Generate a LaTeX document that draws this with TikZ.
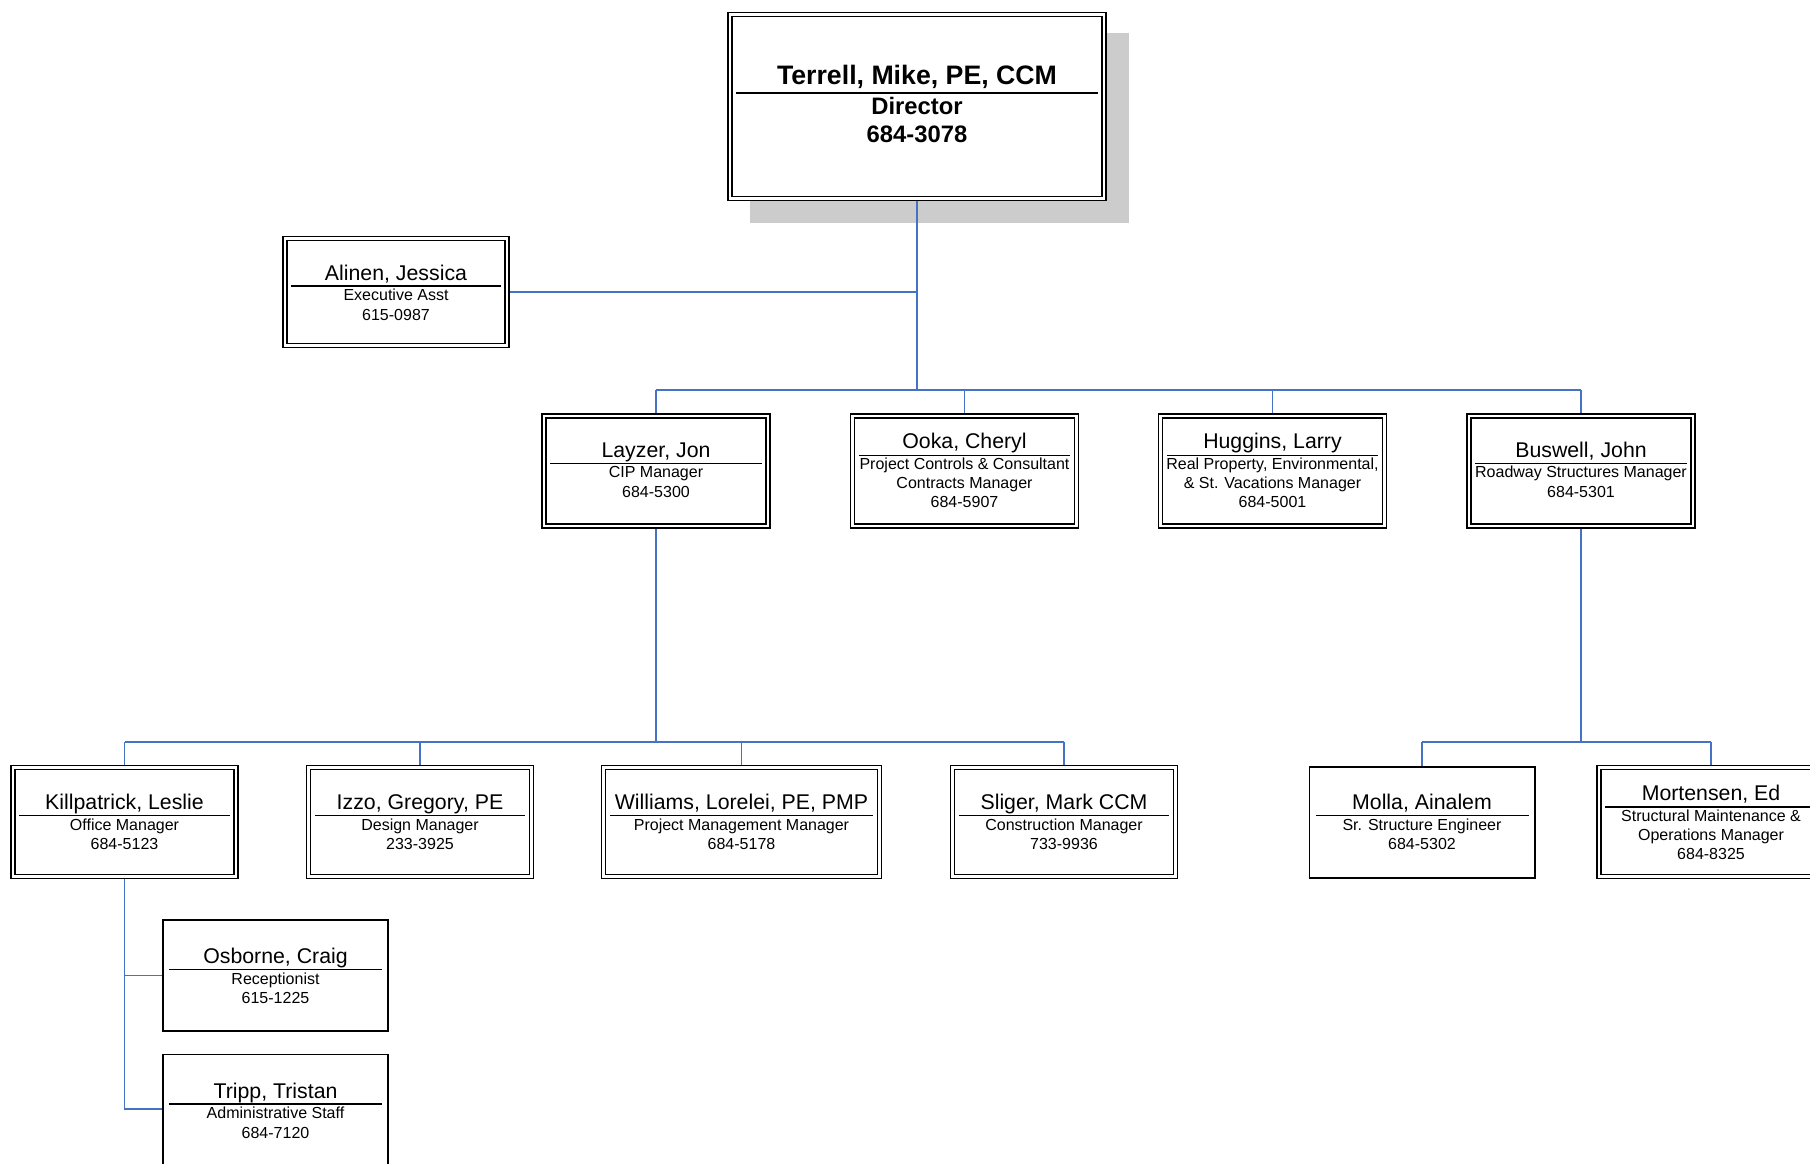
\documentclass[tikz,border=0pt]{standalone}
\usepackage{fontspec}
\setmainfont{Liberation Sans}
\usetikzlibrary{calc,backgrounds}
\definecolor{conncol}{RGB}{68,114,196}
\definecolor{shadowgray}{RGB}{204,204,204}
\tikzset{
  dbox/.style={draw=black, line width=1.4pt, double=white, double distance=2.6pt, inner sep=0pt},
  sbox/.style={draw=black, line width=1.8pt, fill=white, inner sep=0pt},
  conn/.style={draw=conncol, line width=1.8pt},
  sepline/.style={draw=black, line width=1.6pt},
  nm/.style={inner sep=0pt, anchor=base, font=\fontsize{21.3}{25}\selectfont},
  subtxt/.style={inner sep=0pt, anchor=base, font=\fontsize{16}{19}\selectfont},
  topnm/.style={inner sep=0pt, anchor=base, font=\bfseries\fontsize{26.7}{31}\selectfont},
  topsub/.style={inner sep=0pt, anchor=base, font=\bfseries\fontsize{23.8}{28}\selectfont},
}
% id, cx, top, w, h  (double border)
\newcommand\dstaffbox[5]{%
  \node[dbox, minimum width={#4-4}, minimum height={#5-4}, anchor=north] (#1) at (#2,{#3+2}) {};}
% id, cx, top, w, h  (single border)
\newcommand\sstaffbox[5]{%
  \node[sbox, minimum width={#4-1.8}, minimum height={#5-1.8}, anchor=north] (#1) at (#2,{#3+0.9}) {};}
% id, name, sub, phone, vertical shift
\newcommand\threeline[5]{%
  \node[nm] (#1-name) at ($(#1.north)+(0,42+#5)$) {#2};
  \draw[sepline] ($(#1.north west)+(7,48+#5)$) -- ($(#1.north east)+(-7,48+#5)$);
  \node[subtxt] (#1-role) at ($(#1.north)+(0,62.5+#5)$) {#3};
  \node[subtxt] (#1-phone) at ($(#1.north)+(0,82+#5)$) {#4};}
% id, name, role1, role2, phone
\newcommand\fourline[5]{%
  \node[nm] (#1-name) at ($(#1.north)+(0,33.5)$) {#2};
  \draw[sepline] ($(#1.north west)+(7,40)$) -- ($(#1.north east)+(-7,40)$);
  \node[subtxt] (#1-rolea) at ($(#1.north)+(0,54.5)$) {#3};
  \node[subtxt] (#1-roleb) at ($(#1.north)+(0,73.5)$) {#4};
  \node[subtxt] (#1-phone) at ($(#1.north)+(0,92.5)$) {#5};}
\begin{document}
\begin{tikzpicture}[x=1pt,y=-1pt]
\useasboundingbox (0,0) rectangle (1810,1163);
% boxes
\dstaffbox{terrell}{917}{11.7}{378}{188.3}
\dstaffbox{alinen}{396}{236}{226}{111}
\dstaffbox{layzer}{656}{413.3}{228}{114}
\dstaffbox{ooka}{964.5}{413.3}{228}{114}
\dstaffbox{huggins}{1272.5}{413.3}{228}{114}
\dstaffbox{buswell}{1581}{413.3}{228}{114}
\dstaffbox{killpatrick}{124.5}{765}{227}{113}
\dstaffbox{izzo}{420}{765}{227}{113}
\dstaffbox{williams}{741.5}{765}{279.5}{113}
\dstaffbox{sliger}{1064}{765}{227}{113}
\sstaffbox{molla}{1422}{765}{227}{113}
\dstaffbox{mortensen}{1711}{765}{228}{113}
\sstaffbox{osborne}{275.5}{918}{227.5}{113}
\sstaffbox{tripp}{275.5}{1052.7}{227.5}{120}
% background: shadow and connectors
\begin{scope}[on background layer]
  \fill[shadowgray] (750,33.3) rectangle (1129.3,222.7);
  \fill[white] (terrell.north west) rectangle (terrell.south east);
  \coordinate (ajoin) at (917,292);
  \coordinate (bara) at (0,390);
  \coordinate (barb) at (0,742);
  \coordinate (kjoin) at (0,1109);
  \draw[conn] (terrell.south) -- (terrell.south |- bara);
  \draw[conn] (alinen.east |- ajoin) -- (ajoin);
  \draw[conn] (layzer.north |- bara) -- (buswell.north |- bara);
  \foreach \n in {layzer,ooka,huggins,buswell}
    \draw[conn] (\n.north |- bara) -- (\n.north);
  \draw[conn] (layzer.south) -- (layzer.south |- barb);
  \draw[conn] (killpatrick.north |- barb) -- (sliger.north |- barb);
  \foreach \n in {killpatrick,izzo,williams,sliger}
    \draw[conn] (\n.north |- barb) -- (\n.north);
  \draw[conn] (buswell.south) -- (buswell.south |- barb);
  \draw[conn] (molla.north |- barb) -- (mortensen.north |- barb);
  \foreach \n in {molla,mortensen}
    \draw[conn] (\n.north |- barb) -- (\n.north);
  \draw[conn] (killpatrick.south) -- (killpatrick.south |- kjoin) -- (tripp.west |- kjoin);
  \draw[conn] (killpatrick.south |- osborne.west) -- (osborne.west);
\end{scope}
% director
\node[topnm] (terrell-name) at (917,84) {Terrell, Mike, PE, CCM};
\draw[sepline] ($(terrell.north west)+(7,79)$) -- ($(terrell.north east)+(-7,79)$);
\node[topsub] (terrell-role) at (917,114.3) {Director};
\node[topsub] (terrell-phone) at (917,142.5) {684-3078};
% staff
\threeline{alinen}{Alinen, Jessica}{Executive Asst}{615-0987}{0}
\threeline{layzer}{Layzer, Jon}{CIP Manager}{684-5300}{0}
\fourline{ooka}{Ooka, Cheryl}{Project Controls \& Consultant}{Contracts Manager}{684-5907}
\fourline{huggins}{Huggins, Larry}{Real Property, Environmental,}{\& St. Vacations Manager}{684-5001}
\threeline{buswell}{Buswell, John}{Roadway Structures Manager}{684-5301}{0}
\threeline{killpatrick}{Killpatrick, Leslie}{Office Manager}{684-5123}{0.5}
\threeline{izzo}{Izzo, Gregory, PE}{Design Manager}{233-3925}{0.5}
\threeline{williams}{Williams, Lorelei, PE, PMP}{Project Management Manager}{684-5178}{0.5}
\threeline{sliger}{Sliger, Mark CCM}{Construction Manager}{733-9936}{0.5}
\threeline{molla}{Molla, Ainalem}{Sr. Structure Engineer}{684-5302}{1.6}
\fourline{mortensen}{Mortensen, Ed}{Structural Maintenance \&}{Operations Manager}{684-8325}
\threeline{osborne}{Osborne, Craig}{Receptionist}{615-1225}{2.6}
\threeline{tripp}{Tripp, Tristan}{Administrative Staff}{684-7120}{2.6}
\end{tikzpicture}
\end{document}
